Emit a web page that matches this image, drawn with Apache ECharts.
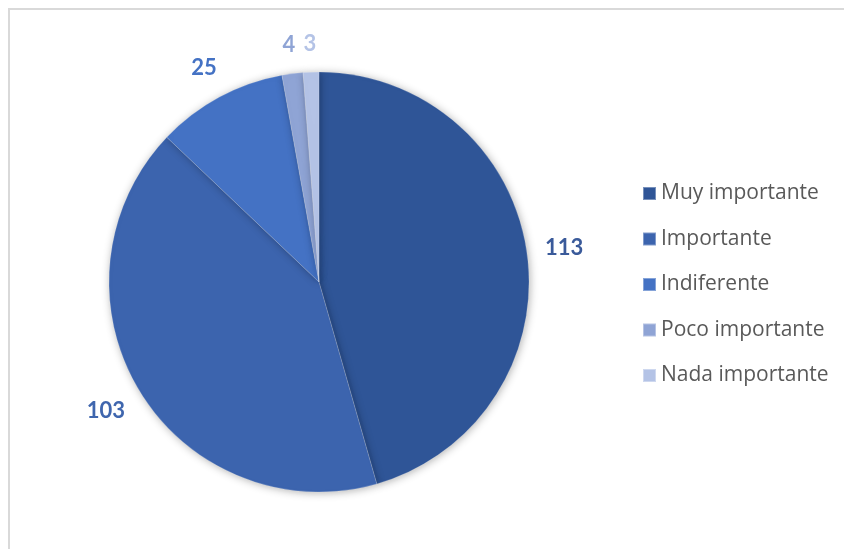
<!DOCTYPE html>
<html>
<head>
<meta charset="utf-8">
<script src="https://cdn.jsdelivr.net/npm/echarts@6/dist/echarts.min.js"></script>
<style>
  html, body { margin: 0; padding: 0; background: #ffffff; }
  #chart { width: 844px; height: 549px; }
</style>
</head>
<body>
<div id="chart"></div>
<script>
// Survey answers: how important each rating was
const categories = ['Muy importante', 'Importante', 'Indiferente', 'Poco importante', 'Nada importante'];
const counts = [113, 103, 25, 4, 3];
const sliceColors = ['#2F5597', '#3C64AE', '#4472C4', '#8FA4D5', '#B4C3E6'];
const labelColors = ['#3A5A9A', '#3F66AE', '#4472C4', '#8FA4D5', '#B4C3E6'];

const FONT = 'Lato, "Open Sans", sans-serif';
const CENTER = [319, 282];
const RADIUS = 210;
const LABEL_GAP = 17;   // clearance between the rim and a value label's box

const pieData = categories.map((name, i) => ({
  name: name,
  value: counts[i],
  itemStyle: { color: sliceColors[i] },
  label: { color: labelColors[i] }
}));

// Mid-angle of each slice (radians, clockwise from 12 o'clock)
const total = counts.reduce((a, b) => a + b, 0);
const midAngles = [];
counts.reduce((acc, v) => { midAngles.push((acc + v / 2) / total * Math.PI * 2); return acc + v; }, 0);

// Push each value label outward along its slice's mid-angle so its box
// sits a fixed gap beyond the rim.
function placeLabel(params) {
  const a = midAngles[params.dataIndex];
  const s = Math.sin(a), c = Math.cos(a);
  const r = params.labelRect;
  const ext = Math.abs(s) * r.width / 2 + Math.abs(c) * r.height / 2;
  const d = RADIUS + LABEL_GAP + ext;
  return {
    x: CENTER[0] + d * s,
    y: CENTER[1] - d * c,
    align: 'center',
    verticalAlign: 'middle'
  };
}

const chart = echarts.init(document.getElementById('chart'), null, { renderer: 'canvas' });

chart.setOption({
  animation: false,
  backgroundColor: '#ffffff',
  graphic: [{
    type: 'rect',
    shape: { x: 9, y: 9, width: 900, height: 600 },
    style: { fill: 'none', stroke: '#D9D9D9', lineWidth: 2 },
    silent: true,
    z: -1
  }],
  legend: {
    orient: 'vertical',
    left: 642,
    top: 183,
    padding: 0,
    itemWidth: 13,
    itemHeight: 13,
    itemGap: 24.5,
    icon: 'rect',
    data: categories.map((name, i) => ({ name: name, itemStyle: { color: sliceColors[i] } })),
    textStyle: { fontFamily: '"Open Sans", Lato, sans-serif', fontSize: 21, color: '#595959', lineHeight: 21 },
    selectedMode: false
  },
  series: [
    {
      type: 'pie',
      center: CENTER,
      radius: [0, RADIUS],
      startAngle: 90,
      clockwise: true,
      data: pieData,
      label: {
        show: true,
        position: 'inside',
        formatter: '{c}',
        fontFamily: FONT,
        fontSize: 22,
        fontWeight: 'bold'
      },
      labelLine: { show: false },
      labelLayout: placeLabel,
      itemStyle: {
        borderColor: 'rgba(255,255,255,0.35)',
        borderWidth: 0.5,
        shadowBlur: 8,
        shadowColor: 'rgba(0,0,0,0.3)',
        shadowOffsetX: 1,
        shadowOffsetY: 1
      },
      emphasis: { disabled: true }
    }
  ]
});
</script>
</body>
</html>
